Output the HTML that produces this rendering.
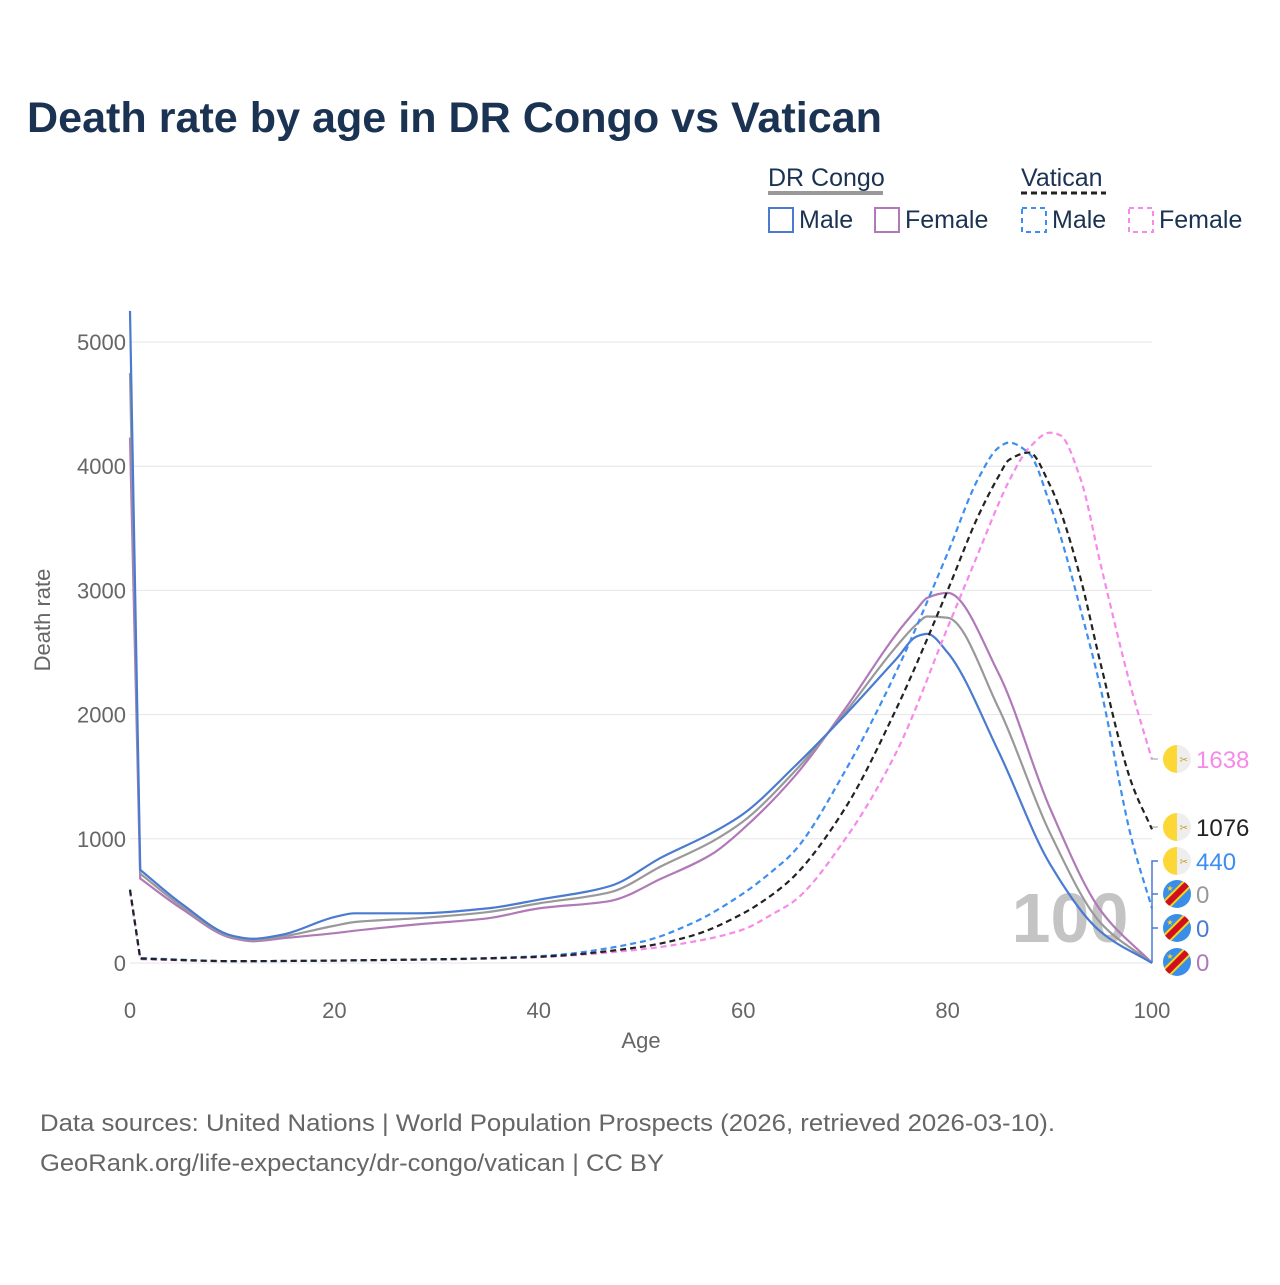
<!DOCTYPE html>
<html><head><meta charset="utf-8"><style>
body{margin:0;background:#fff;font-family:"Liberation Sans",sans-serif}
svg text{font-family:"Liberation Sans",sans-serif}
</style></head><body>
<svg id="chart" width="1280" height="1280" viewBox="0 0 1280 1280">
<text x="27" y="132" font-size="43" font-weight="bold" fill="#1b3352" textLength="855" lengthAdjust="spacingAndGlyphs">Death rate by age in DR Congo vs Vatican</text>
<g>
<text x="768" y="186" font-size="25" fill="#1b3352">DR Congo</text>
<line x1="768" y1="193" x2="883" y2="193" stroke="#999" stroke-width="4"/>
<text x="1021" y="186" font-size="25" fill="#1b3352">Vatican</text>
<line x1="1021" y1="193" x2="1106" y2="193" stroke="#222" stroke-width="3" stroke-dasharray="6,4"/>
<rect x="769" y="208" width="24" height="24" fill="none" stroke="#4a7bd0" stroke-width="2"/>
<text x="799" y="228" font-size="25" fill="#1b3352">Male</text>
<rect x="875" y="208" width="24" height="24" fill="none" stroke="#b07ab8" stroke-width="2"/>
<text x="905" y="228" font-size="25" fill="#1b3352">Female</text>
<rect x="1022" y="208" width="24" height="24" fill="none" stroke="#3d8ef0" stroke-width="2" stroke-dasharray="5,4"/>
<text x="1052" y="228" font-size="25" fill="#1b3352">Male</text>
<rect x="1129" y="208" width="24" height="24" fill="none" stroke="#f78ae8" stroke-width="2" stroke-dasharray="5,4"/>
<text x="1159" y="228" font-size="25" fill="#1b3352">Female</text>
</g>
<g id="grid"></g>
<text x="1070" y="942" font-size="70" font-weight="bold" fill="#c4c4c4" text-anchor="middle">100</text>
<g id="series"></g>
<g id="ends"></g>
<text x="641" y="1048" font-size="22" fill="#666" text-anchor="middle">Age</text>
<text transform="translate(50,620) rotate(-90)" font-size="22" fill="#666" text-anchor="middle">Death rate</text>
<text x="40" y="1131" font-size="24" fill="#666" textLength="1015" lengthAdjust="spacingAndGlyphs">Data sources: United Nations | World Population Prospects (2026, retrieved 2026-03-10).</text>
<text x="40" y="1171" font-size="24" fill="#666" textLength="624" lengthAdjust="spacingAndGlyphs">GeoRank.org/life-expectancy/dr-congo/vatican | CC BY</text>
</svg>
<script>
const yTicks=[0,1000,2000,3000,4000,5000];
const xTicks=[0,20,40,60,80,100];
const drcMaleAges=[0,1,5,10,12,15,20,22,28,35,40,47,52,57,60,65,70,75,77,78,80,85,90,95,100];
const drcMale=[5250,750,480,220,195,230,370,400,400,440,510,620,850,1050,1200,1580,2000,2450,2630,2650,2500,1700,800,250,0];
const drcTotal=[4750,720,460,210,185,215,300,330,360,410,480,570,780,980,1140,1540,2020,2550,2730,2790,2780,2050,1050,320,0];
const drcFemale=[4230,680,440,200,175,200,240,260,310,360,440,500,680,880,1080,1500,2050,2650,2850,2940,2980,2330,1250,420,0];
const vatAges=[0,1,10,30,40,50,55,60,63,65,70,75,80,83,85,86,88,90,91,93,95,98,100];
const vatMale=[590,40,15,30,55,170,320,560,750,900,1550,2350,3300,3900,4150,4190,4100,3700,3450,2850,2200,1000,440];
const vatTotal=[590,35,15,30,50,130,220,400,560,700,1250,2050,3000,3600,3920,4050,4110,3850,3650,3100,2400,1450,1076];
const vatFemale=[580,30,15,28,48,110,170,270,400,500,1000,1700,2700,3300,3700,3880,4150,4270,4250,3900,3200,2200,1638];
const sx=a=>130+a*10.22, sy=v=>963-v*0.1242;
const NS='http://www.w3.org/2000/svg';
const grid=document.getElementById('grid');
yTicks.forEach(t=>{const l=document.createElementNS(NS,'line');l.setAttribute('x1',130);l.setAttribute('x2',1152);l.setAttribute('y1',sy(t));l.setAttribute('y2',sy(t));l.setAttribute('stroke','#e6e6e6');


grid.appendChild(l);
const tx=document.createElementNS(NS,'text');tx.setAttribute('x',126);tx.setAttribute('y',sy(t)+8);tx.setAttribute('text-anchor','end');tx.setAttribute('font-size','22');tx.setAttribute('fill','#666');tx.textContent=t;


grid.appendChild(tx);});
xTicks.forEach(t=>{const tx=document.createElementNS(NS,'text');tx.setAttribute('x',sx(t));tx.setAttribute('y',1018);tx.setAttribute('text-anchor','middle');tx.setAttribute('font-size','22');tx.setAttribute('fill','#666');tx.textContent=t;


grid.appendChild(tx);});
function path(ages,vals){
const x=ages.map(sx),y=vals.map(sy),n=x.length;
let d='M'+x[0]+','+y[0]+' L'+x[1]+','+y[1];
// monotone cubic from index 1 onward
const xs=x.slice(1),ys=y.slice(1),m=xs.length;
const dl=[],s=[];for(let i=0;i<m-1;i++)dl.push((ys[i+1]-ys[i])/(xs[i+1]-xs[i]));
s[0]=dl[0];s[m-1]=dl[m-2];
for(let i=1;i<m-1;i++){if(dl[i-1]*dl[i]<=0)s[i]=0;else{const w1=2*(xs[i+1]-xs[i])+(xs[i]-xs[i-1]),w2=(xs[i+1]-xs[i])+2*(xs[i]-xs[i-1]);s[i]=(w1+w2)/(w1/dl[i-1]+w2/dl[i]);}}
for(let i=0;i<m-1;i++){const h=(xs[i+1]-xs[i])/3;
d+=` C${xs[i]+h},${ys[i]+h*s[i]} ${xs[i+1]-h},${ys[i+1]-h*s[i+1]} ${xs[i+1]},${ys[i+1]}`;}
return d;}
const ser=document.getElementById('series');
[[drcMaleAges,drcFemale,'#b07ab8','','drc-female-line'],[drcMaleAges,drcTotal,'#999','','drc-total-line'],[drcMaleAges,drcMale,'#4a7bd0','','drc-male-line'],
[vatAges,vatFemale,'#f78ae8','6,4','vatican-female-line'],[vatAges,vatMale,'#3d8ef0','6,4','vatican-male-line'],[vatAges,vatTotal,'#222','6,4','vatican-total-line']].forEach(s=>{
const e=document.createElementNS(NS,'path');e.setAttribute('d',path(s[0],s[1]));e.setAttribute('fill','none');e.setAttribute('stroke',s[2]);e.setAttribute('stroke-width','2.2');if(s[3])e.setAttribute('stroke-dasharray',s[3]);


ser.appendChild(e);});
const ends=document.getElementById('ends');
const endLabels=[[759,vatFemale[vatFemale.length-1],'#f78ae8','v'],[827,vatTotal[vatTotal.length-1],'#222','v'],[861,vatMale[vatMale.length-1],'#3d8ef0','v'],[894,drcTotal[drcTotal.length-1],'#999','d'],[928,drcMale[drcMale.length-1],'#4a7bd0','d'],[962,drcFemale[drcFemale.length-1],'#b07ab8','d']];
let h='<path d="M1152,963 V861 H1158 M1152,894 H1158 M1152,928 H1158" stroke="#4a7bd0" fill="none" stroke-width="1.5"/>';
h+='<path d="M1152,759 H1158 M1152,827 H1158" stroke="#999" fill="none"/>';
endLabels.forEach(e=>{const y=e[0],cx=1177;
if(e[3]=='v'){h+=`<clipPath id="c${y}"><circle cx="${cx}" cy="${y}" r="14"/></clipPath><g clip-path="url(#c${y})"><rect x="${cx-14}" y="${y-14}" width="14" height="28" fill="#fcd736"/><rect x="${cx}" y="${y-14}" width="14" height="28" fill="#eee"/></g><text x="${cx+7}" y="${y+4}" font-size="10" fill="#c8a028" text-anchor="middle">✂</text>`;}
else{h+=`<clipPath id="c${y}"><circle cx="${cx}" cy="${y}" r="14"/></clipPath><g clip-path="url(#c${y})"><rect x="${cx-14}" y="${y-14}" width="28" height="28" fill="#3a8eea"/><line x1="${cx-16}" y1="${y+16}" x2="${cx+16}" y2="${y-16}" stroke="#f7d618" stroke-width="10"/><line x1="${cx-16}" y1="${y+16}" x2="${cx+16}" y2="${y-16}" stroke="#ce1021" stroke-width="6"/></g><text x="${cx-7}" y="${y-3}" font-size="8" fill="#f7d618" text-anchor="middle">★</text>`;}
h+=`<text x="${cx+19}" y="${y+9}" font-size="24" fill="${e[2]}">${e[1]}</text>`;});
ends.innerHTML=h;
</script>
</body></html>
